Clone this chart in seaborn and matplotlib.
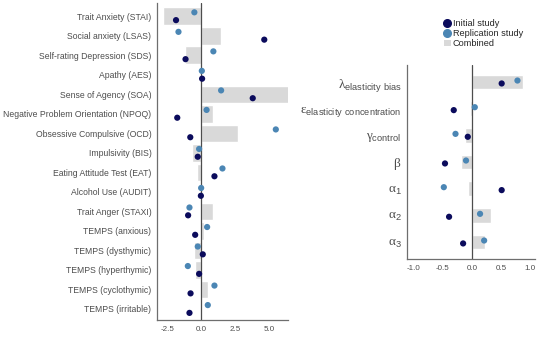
import numpy as np
import pandas as pd
import matplotlib
matplotlib.use('Agg')
import matplotlib.pyplot as plt
import seaborn as sns
from matplotlib.lines import Line2D
from matplotlib.patches import Patch

sns.set_style('white')
plt.rcParams['font.family'] = ['Liberation Sans', 'DejaVu Sans']
plt.rcParams['mathtext.fontset'] = 'custom'
plt.rcParams['mathtext.rm'] = 'Liberation Serif'
plt.rcParams['mathtext.sf'] = 'Liberation Sans'

# questionnaire panel
scales = ['Trait Anxiety (STAI)', 'Social anxiety (LSAS)', 'Self-rating Depression (SDS)',
          'Apathy (AES)', 'Sense of Agency (SOA)', 'Negative Problem Orientation (NPOQ)',
          'Obsessive Compulsive (OCD)', 'Impulsivity (BIS)', 'Eating Attitude Test (EAT)',
          'Alcohol Use (AUDIT)', 'Trait Anger (STAXI)', 'TEMPS (anxious)',
          'TEMPS (dysthymic)', 'TEMPS (hyperthymic)', 'TEMPS (cyclothymic)', 'TEMPS (irritable)']
scale_combined = [-2.8, 1.47, -1.18, 0.0, 6.6, 0.9, 2.7, -0.66, -0.3,
                  0.0, 0.9, 0.22, -0.56, -0.44, 0.49, 0.0]
scale_initial = [-1.85, 4.65, -1.15, 0.07, 3.8, -1.76, -0.8, -0.25, 0.98,
                 -0.02, -0.96, -0.44, 0.12, -0.15, -0.78, -0.86]
scale_replication = [-0.5, -1.67, 0.9, 0.05, 1.47, 0.4, 5.5, -0.15, 1.57,
                     0.0, -0.86, 0.44, -0.25, -0.98, 0.98, 0.49]

# model parameter panel
params = [r'$\mathrm{λ}_{\mathsf{elasticity\ bias}}$',
          r'$\mathrm{ε}_{\mathsf{elasticity\ concentration}}$',
          r'$\mathrm{γ}_{\mathsf{control}}$', r'$\mathrm{β}$',
          r'$\mathrm{α}_{\mathsf{1}}$', r'$\mathrm{α}_{\mathsf{2}}$', r'$\mathrm{α}_{\mathsf{3}}$']
param_combined = [0.87, -0.03, -0.12, -0.19, -0.07, 0.33, 0.22]
param_initial = [0.51, -0.31, -0.07, -0.46, 0.51, -0.39, -0.15]
param_replication = [0.78, 0.05, -0.28, -0.1, -0.48, 0.14, 0.21]

C_INIT = '#0b0b5c'
C_REP = '#4b86b4'
C_BAR = '#d9d9d9'
C_AX = '#6e6e6e'


def draw_panel(ax, labels, combined, initial, replication, bar_h, off, s):
    df = pd.DataFrame({'label': labels, 'combined': combined})
    sns.barplot(data=df, x='combined', y='label', orient='h', color=C_BAR,
                width=bar_h, saturation=1, ax=ax)
    pos = np.arange(len(labels))
    sns.scatterplot(x=replication, y=pos - off, color=C_REP, s=s,
                    edgecolor='none', ax=ax, zorder=3)
    sns.scatterplot(x=initial, y=pos + off, color=C_INIT, s=s,
                    edgecolor='none', ax=ax, zorder=3)
    ax.axvline(0, color='#4d4d4d', lw=0.9, zorder=2)
    ax.set_xlabel('')
    ax.set_ylabel('')
    for side in ['top', 'right']:
        ax.spines[side].set_visible(False)
    for side in ['left', 'bottom']:
        ax.spines[side].set_color(C_AX)
        ax.spines[side].set_linewidth(0.9)
    ax.tick_params(axis='both', length=2.5, width=0.7, color=C_AX,
                   labelcolor='#4d4d4d', pad=1.5)


fig = plt.figure(figsize=(5.5, 3.51), dpi=100)

ax1 = fig.add_axes([0.2855, 0.088, 0.2382, 0.903])
draw_panel(ax1, scales, scale_combined, scale_initial, scale_replication, 0.9, 0.2, 20)
ax1.set_xlim(-3.25, 6.4)
ax1.set_ylim(15.57, -0.67)
ax1.set_xticks([-2.5, 0, 2.5, 5.0])
ax1.set_xticklabels(['-2.5', '0.0', '2.5', '5.0'])
ax1.tick_params(axis='y', labelsize=6.2)
ax1.tick_params(axis='x', labelsize=5.8)

ax2 = fig.add_axes([0.74, 0.262, 0.2327, 0.553])
draw_panel(ax2, params, param_combined, param_initial, param_replication, 0.55, 0.055, 20)
ax2.set_xlim(-1.11, 1.08)
ax2.set_ylim(6.64, -0.64)
ax2.set_xticks([-1.0, -0.5, 0, 0.5, 1.0])
ax2.set_xticklabels(['-1.0', '-0.5', '0.0', '0.5', '1.0'])
ax2.tick_params(axis='y', labelsize=9.5)
ax2.tick_params(axis='x', labelsize=5.8)

handles = [Line2D([], [], marker='o', ls='', color=C_INIT, markersize=5.5, label='Initial study'),
           Line2D([], [], marker='o', ls='', color=C_REP, markersize=5.5, label='Replication study'),
           Patch(facecolor=C_BAR, edgecolor='none', label='Combined')]
fig.legend(handles=handles, loc='upper left', bbox_to_anchor=(0.8, 0.955), frameon=False,
           fontsize=6.6, handlelength=0.8, handletextpad=0.2, labelspacing=0.1,
           borderaxespad=0)

fig.savefig('out.png', dpi=100)
